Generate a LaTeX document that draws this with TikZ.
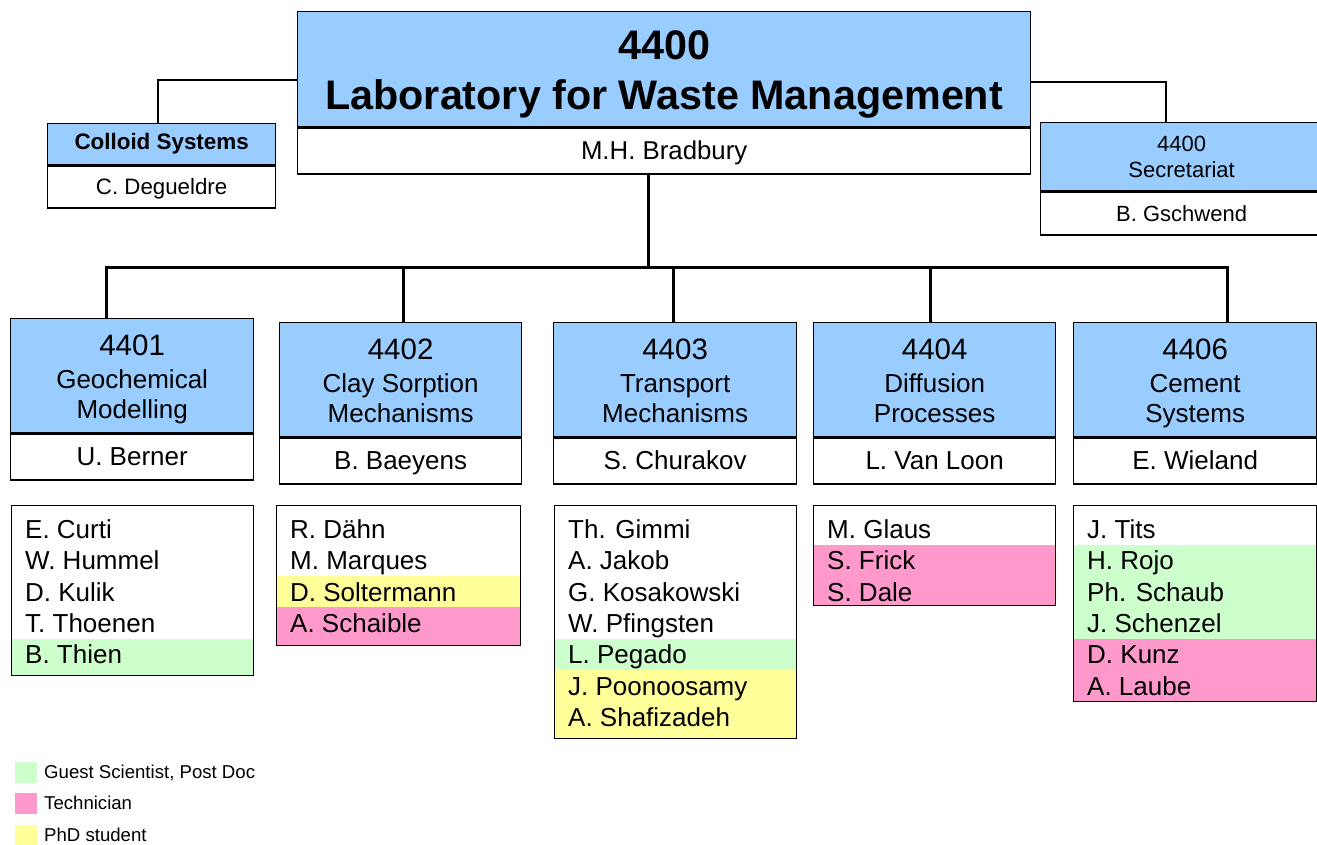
\documentclass[tikz,border=0pt]{standalone}
\usepackage{fontspec}
\setmainfont{Liberation Sans}
\definecolor{hblue}{HTML}{99CCFF}
\definecolor{pgreen}{HTML}{CCFFCC}
\definecolor{ppink}{HTML}{FF99CC}
\definecolor{pyellow}{HTML}{FFFF99}
\newcommand{\fsz}[2]{\fontsize{#1}{#2}\selectfont}
\newcommand{\topstrut}[1]{\rule{0pt}{#1pt}}
\newcommand{\botstrut}[1]{\rule[-#1pt]{0pt}{#1pt}}
\newcommand{\deptext}[3]{{\fsz{29.5}{30}\topstrut{30}#1}\\[3pt]#2\\#3\botstrut{8}}
\newcommand{\staffbox}[5]{%
  \foreach \c/\n [count=\i from 0] in {#5} {
    \pgfmathsetmacro{\yt}{\i==0 ? 505 : 513.35+31.3*\i}
    \fill[\c] (#2,\yt) rectangle (#3,#4);
    \node[anchor=base west, font=\fsz{26}{30}, inner sep=0pt] (#1-\i) at (#2+14, 538.5+31.3*\i) {\n};
  }
  \node[draw=black, line width=1.3pt, inner sep=0pt, anchor=north west,
        minimum width=#3-#2, minimum height=#4-505] (#1) at (#2,505) {};
}
\begin{document}
\begin{tikzpicture}[x=1pt,y=-1pt,
  box/.style={draw=black, line width=1.3pt, inner sep=0pt, align=center},
  head/.style={box, fill=hblue, anchor=north west},
  namebox/.style={box, fill=white, anchor=north, text height=23pt, text depth=5pt},
  conn/.style={line width=1.3pt},
  bus/.style={line width=3pt},
  dept/.style={head, minimum height=114, font=\fsz{26}{30}},
  dname/.style={namebox, minimum height=46, font=\fsz{26}{30}}
]
\useasboundingbox (0,0) rectangle (1317,845);

% main
\node[head, minimum width=733, minimum height=115, font=\bfseries\fsz{41.3}{50}] (top) at (297,11)
  {\topstrut{42}4400\\Laboratory for Waste Management\botstrut{11}};
\node[namebox, minimum width=733, minimum height=46, font=\fsz{25.8}{30}] (topn) at (top.south) {M.H. Bradbury};

% colloid
\node[head, minimum width=228, minimum height=41, font=\bfseries\fsz{22.4}{26}] (colh) at (47,123) {Colloid Systems};
\node[namebox, minimum width=228, minimum height=42, font=\fsz{22.3}{26}, text height=20pt, text depth=4pt] (coln) at (colh.south) {C. Degueldre};

% secretariat
\node[head, minimum width=282, minimum height=68, font=\fsz{22}{26}] (sech) at (1040,122) {4400\\Secretariat};
\node[namebox, minimum width=282, minimum height=43, font=\fsz{22}{26}, text height=20pt, text depth=4pt] (secn) at (sech.south) {B. Gschwend};

% departments
\node[dept, minimum width=243] (d1h) at (10,318) {\deptext{4401}{Geochemical}{Modelling}};
\node[dname, minimum width=243] (d1n) at (d1h.south) {U. Berner};
\node[dept, minimum width=242] (d2h) at (279,322) {\deptext{4402}{Clay Sorption}{Mechanisms}};
\node[dname, minimum width=242] (d2n) at (d2h.south) {B. Baeyens};
\node[dept, minimum width=243] (d3h) at (553,322) {\deptext{4403}{Transport}{Mechanisms}};
\node[dname, minimum width=243] (d3n) at (d3h.south) {S. Churakov};
\node[dept, minimum width=242] (d4h) at (813,322) {\deptext{4404}{Diffusion}{Processes}};
\node[dname, minimum width=242] (d4n) at (d4h.south) {L. Van Loon};
\node[dept, minimum width=243] (d5h) at (1073,322) {\deptext{4406}{Cement}{Systems}};
\node[dname, minimum width=243] (d5n) at (d5h.south) {E. Wieland};

% connectors
\coordinate (cl) at (158,80);
\coordinate (sr) at (1166,82);
\draw[conn] (top.west |- cl) -| (colh.north -| cl);
\draw[conn] (top.east |- sr) -| (sech.north -| sr);

\coordinate (bm) at (648,267);
\coordinate (b1) at (106,267);
\coordinate (b2) at (403,267);
\coordinate (b3) at (673,267);
\coordinate (b4) at (930,267);
\coordinate (b5) at (1227,267);
\draw[bus] (topn.south -| bm) -- (bm);
\draw[bus] ([xshift=-1.5pt]b1) -- ([xshift=1.5pt]b5);
\draw[bus] (b1) -- (d1h.north -| b1);
\draw[bus] (b2) -- (d2h.north -| b2);
\draw[bus] (b3) -- (d3h.north -| b3);
\draw[bus] (b4) -- (d4h.north -| b4);
\draw[bus] (b5) -- (d5h.north -| b5);

% staff
\staffbox{s1}{11}{253}{675}{white/E. Curti, white/W. Hummel, white/D. Kulik, white/T. Thoenen, pgreen/B. Thien}
\staffbox{s2}{276}{520}{645}{white/R. Dähn, white/M. Marques, pyellow/D. Soltermann, ppink/A. Schaible}
\staffbox{s3}{554}{796}{738}{white/Th. Gimmi, white/A. Jakob, white/G. Kosakowski, white/W. Pfingsten, pgreen/L. Pegado, pyellow/J. Poonoosamy, pyellow/A. Shafizadeh}
\staffbox{s4}{813}{1055}{605}{white/M. Glaus, ppink/S. Frick, ppink/S. Dale}
\staffbox{s5}{1073}{1316}{701}{white/J. Tits, pgreen/H. Rojo, pgreen/Ph. Schaub, pgreen/J. Schenzel, ppink/D. Kunz, ppink/A. Laube}

% legend
\node[fill=pgreen, inner sep=0pt, minimum width=22, minimum height=21, anchor=north west] (lg1) at (15,762) {};
\node[fill=ppink, inner sep=0pt, minimum width=22, minimum height=21, anchor=north west] (lg2) at (15,793) {};
\node[fill=pyellow, inner sep=0pt, minimum width=22, minimum height=21, anchor=north west] (lg3) at (15,825) {};
\node[anchor=base west, inner sep=0pt, font=\fsz{18.6}{20}] (lt1) at (44,778.5) {Guest Scientist, Post Doc};
\node[anchor=base west, inner sep=0pt, font=\fsz{18.6}{20}] (lt2) at (44,809.5) {Technician};
\node[anchor=base west, inner sep=0pt, font=\fsz{18.6}{20}] (lt3) at (44,841.5) {PhD student};
\end{tikzpicture}
\end{document}
